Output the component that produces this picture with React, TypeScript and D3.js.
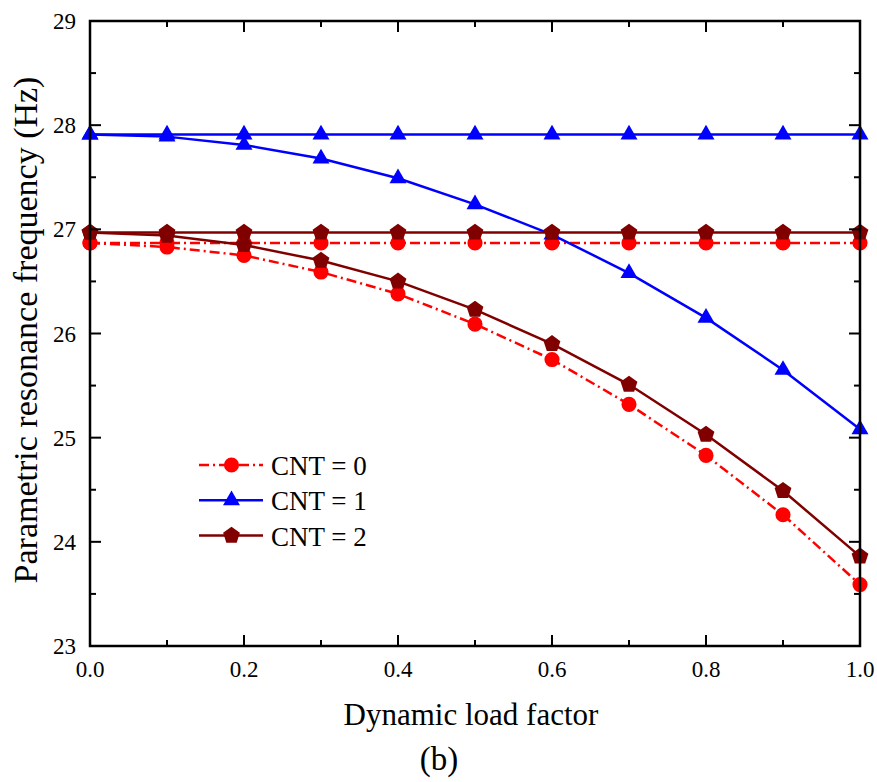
import React, { useRef, useEffect } from "react";
import * as d3 from "d3";

const loadFactor = [0, 0.1, 0.2, 0.3, 0.4, 0.5, 0.6, 0.7, 0.8, 0.9, 1.0];

// each CNT case has a flat line and a falling curve
const cnt0Flat = [26.87, 26.87, 26.87, 26.87, 26.87, 26.87, 26.87, 26.87, 26.87, 26.87, 26.87];
const cnt0Curve = [26.87, 26.83, 26.75, 26.59, 26.38, 26.09, 25.75, 25.32, 24.83, 24.26, 23.59];
const cnt1Flat = [27.91, 27.91, 27.91, 27.91, 27.91, 27.91, 27.91, 27.91, 27.91, 27.91, 27.91];
const cnt1Curve = [27.91, 27.89, 27.81, 27.68, 27.49, 27.24, 26.95, 26.58, 26.15, 25.65, 25.08];
const cnt2Flat = [26.97, 26.97, 26.97, 26.97, 26.97, 26.97, 26.97, 26.97, 26.97, 26.97, 26.97];
const cnt2Curve = [26.97, 26.94, 26.85, 26.70, 26.50, 26.23, 25.90, 25.51, 25.03, 24.49, 23.86];

const xTicks = [0, 0.2, 0.4, 0.6, 0.8, 1.0];
const yTicks = [23, 24, 25, 26, 27, 28, 29];
const legendLabels = ["CNT = 0", "CNT = 1", "CNT = 2"];

// pentagon marker for the CNT = 2 series
const pentagon = {
  draw(ctx: any, size: number) {
    const r = Math.sqrt(size / 2.3776);
    for (let i = 0; i < 5; i++) {
      const a = -Math.PI / 2 + (i * 2 * Math.PI) / 5;
      const px = r * Math.cos(a), py = r * Math.sin(a);
      if (i === 0) ctx.moveTo(px, py);
      else ctx.lineTo(px, py);
    }
    ctx.closePath();
  },
};

const App = () => {
  const ref = useRef<SVGSVGElement>(null);

  useEffect(() => {
    document.body.style.margin = "0";
    const svg = d3.select(ref.current);
    svg.selectAll("*").remove();

    const width = 877;
    const height = 782;
    const left = 90, right = 860, top = 21, bottom = 646;
    const font = "'Liberation Serif', 'Times New Roman', serif";

    svg.attr("width", width).attr("height", height);

    const x = d3.scaleLinear().domain([0, 1]).range([left, right]);
    const y = d3.scaleLinear().domain([23, 29]).range([bottom, top]);

    const series = [
      { flat: cnt0Flat, curve: cnt0Curve, color: "#ff0000", dash: "10,4,2,4", shape: d3.symbolCircle as any, size: 180 },
      { flat: cnt1Flat, curve: cnt1Curve, color: "#0000ff", dash: null, shape: d3.symbolTriangle as any, size: 125 },
      { flat: cnt2Flat, curve: cnt2Curve, color: "#800000", dash: null, shape: pentagon as any, size: 185 },
    ];

    const line = d3.line<number>()
      .x((d, i) => x(loadFactor[i]))
      .y((d) => y(d));

    const plot = svg.append("g");

    series.forEach((s) => {
      [s.flat, s.curve].forEach((vals) => {
        plot.append("path")
          .attr("d", line(vals))
          .attr("fill", "none")
          .attr("stroke", s.color)
          .attr("stroke-width", 2.5)
          .attr("stroke-dasharray", s.dash);
      });
    });

    series.forEach((s) => {
      [s.flat, s.curve].forEach((vals) => {
        plot.selectAll(null)
          .data(vals)
          .enter()
          .append("path")
          .attr("d", d3.symbol().type(s.shape).size(s.size))
          .attr("transform", (d, i) => `translate(${x(loadFactor[i])},${y(d)})`)
          .attr("fill", s.color);
      });
    });

    // frame
    svg.append("rect")
      .attr("x", left).attr("y", top)
      .attr("width", right - left).attr("height", bottom - top)
      .attr("fill", "none").attr("stroke", "#000").attr("stroke-width", 2.5);

    const ticks = svg.append("g").attr("stroke", "#000").attr("stroke-width", 2);
    d3.range(0, 1.0001, 0.1).forEach((v, i) => {
      const len = i % 2 === 0 ? 11 : 6;
      ticks.append("line").attr("x1", x(v)).attr("x2", x(v)).attr("y1", bottom).attr("y2", bottom - len);
      ticks.append("line").attr("x1", x(v)).attr("x2", x(v)).attr("y1", top).attr("y2", top + len);
    });
    d3.range(23, 29.0001, 0.5).forEach((v, i) => {
      const len = i % 2 === 0 ? 11 : 6;
      ticks.append("line").attr("x1", left).attr("x2", left + len).attr("y1", y(v)).attr("y2", y(v));
      ticks.append("line").attr("x1", right).attr("x2", right - len).attr("y1", y(v)).attr("y2", y(v));
    });

    svg.append("g").selectAll("text")
      .data(xTicks)
      .enter()
      .append("text")
      .attr("x", (d) => x(d))
      .attr("y", bottom + 31)
      .attr("text-anchor", "middle")
      .attr("font-family", font)
      .attr("font-size", 23)
      .text((d) => d.toFixed(1));

    svg.append("g").selectAll("text")
      .data(yTicks)
      .enter()
      .append("text")
      .attr("x", left - 14)
      .attr("y", (d) => y(d) + 8)
      .attr("text-anchor", "end")
      .attr("font-family", font)
      .attr("font-size", 23)
      .text((d) => d);

    svg.append("text")
      .attr("x", 471)
      .attr("y", 725)
      .attr("text-anchor", "middle")
      .attr("font-family", font)
      .attr("font-size", 31)
      .text("Dynamic load factor");

    svg.append("text")
      .attr("transform", `translate(37, 330) rotate(-90)`)
      .attr("text-anchor", "middle")
      .attr("font-family", font)
      .attr("font-size", 34)
      .text("Parametric resonance frequency (Hz)");

    svg.append("text")
      .attr("x", 439)
      .attr("y", 770)
      .attr("text-anchor", "middle")
      .attr("font-family", font)
      .attr("font-size", 33)
      .text("(b)");

    // legend
    const legend = svg.append("g");
    series.forEach((s, i) => {
      const ly = 465 + i * 35.3;
      legend.append("line")
        .attr("x1", 199).attr("x2", 263)
        .attr("y1", ly).attr("y2", ly)
        .attr("stroke", s.color)
        .attr("stroke-width", 2.5)
        .attr("stroke-dasharray", s.dash);
      legend.append("path")
        .attr("d", d3.symbol().type(s.shape).size(s.size))
        .attr("transform", `translate(231.5,${ly})`)
        .attr("fill", s.color);
      legend.append("text")
        .attr("x", 271)
        .attr("y", ly + 10)
        .attr("font-family", font)
        .attr("font-size", 27)
        .text(legendLabels[i]);
    });
  }, []);

  return <svg ref={ref} style={{ display: "block" }}></svg>;
};

export default App;
